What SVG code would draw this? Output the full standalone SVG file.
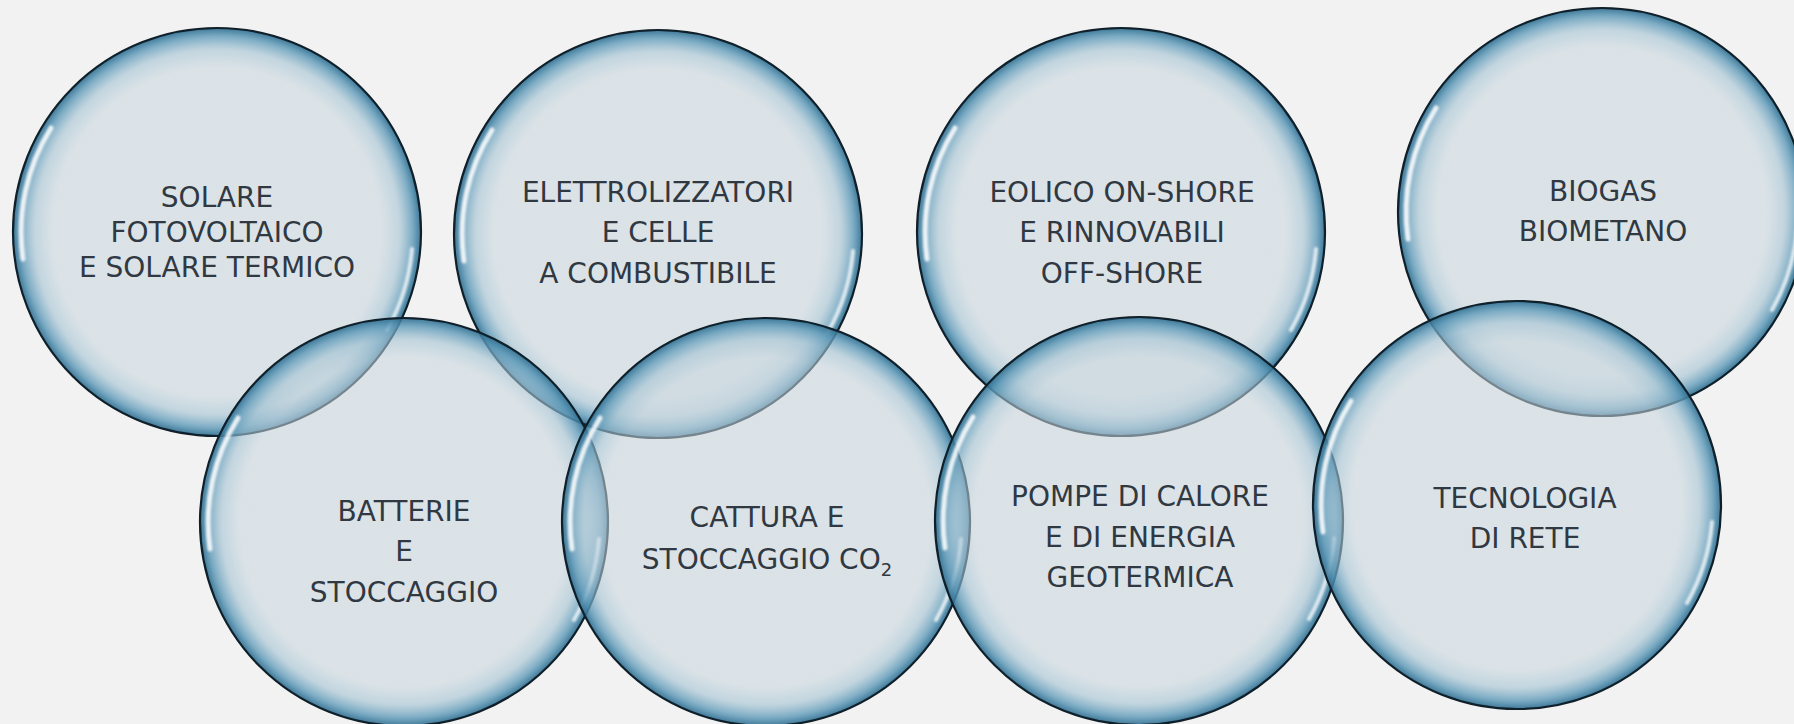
<svg xmlns="http://www.w3.org/2000/svg" width="1794" height="724" viewBox="0 0 1794 724">
<style>
.lbl{font-family:"DejaVu Sans","Verdana",sans-serif;font-size:28px;fill:#303842;text-anchor:middle}
.sub{font-size:18px}
</style>
<defs>
<radialGradient id="bg" cx="0" cy="0" r="205" gradientUnits="userSpaceOnUse">
<stop offset="0" stop-color="#c8d6de" stop-opacity="0.55"/>
<stop offset="0.8" stop-color="#c8d6de" stop-opacity="0.55"/>
<stop offset="0.89" stop-color="#a2c2d2" stop-opacity="0.6"/>
<stop offset="0.955" stop-color="#5d99b8" stop-opacity="0.8"/>
<stop offset="1" stop-color="#2a6a8c" stop-opacity="0.95"/>
</radialGradient>
<filter id="blur" x="-20%" y="-20%" width="140%" height="140%"><feGaussianBlur stdDeviation="1.3"/></filter>
<g id="bubble">
<circle r="204" fill="url(#bg)" stroke="#10202a" stroke-width="2.2"/>
<path d="M -166 -104 A 196 196 0 0 0 -194 27" fill="none" stroke="#ffffff" stroke-width="5" stroke-linecap="round" stroke-opacity="0.85" filter="url(#blur)"/>
<path d="M 195 17 A 196 196 0 0 1 170 98" fill="none" stroke="#ffffff" stroke-width="4" stroke-linecap="round" stroke-opacity="0.75" filter="url(#blur)"/>
</g>
</defs>
<rect width="1794" height="724" fill="#f2f2f2"/>
<g id="node-solare">
<use href="#bubble" transform="translate(217,232)"/>
<text class="lbl" x="217" y="207">SOLARE</text>
<text class="lbl" x="217" y="242">FOTOVOLTAICO</text>
<text class="lbl" x="217" y="277">E SOLARE TERMICO</text>
</g>
<g id="node-elettrolizzatori">
<use href="#bubble" transform="translate(658,234)"/>
<text class="lbl" x="658" y="202">ELETTROLIZZATORI</text>
<text class="lbl" x="658" y="242">E CELLE</text>
<text class="lbl" x="658" y="283">A COMBUSTIBILE</text>
</g>
<g id="node-eolico">
<use href="#bubble" transform="translate(1121,232)"/>
<text class="lbl" x="1122" y="202">EOLICO ON-SHORE</text>
<text class="lbl" x="1122" y="242">E RINNOVABILI</text>
<text class="lbl" x="1122" y="283">OFF-SHORE</text>
</g>
<g id="node-biogas">
<use href="#bubble" transform="translate(1602,212)"/>
<text class="lbl" x="1603" y="201">BIOGAS</text>
<text class="lbl" x="1603" y="241">BIOMETANO</text>
</g>
<g id="node-batterie">
<use href="#bubble" transform="translate(404,522)"/>
<text class="lbl" x="404" y="521">BATTERIE</text>
<text class="lbl" x="404" y="561">E</text>
<text class="lbl" x="404" y="602">STOCCAGGIO</text>
</g>
<g id="node-cattura">
<use href="#bubble" transform="translate(766,522)"/>
<text class="lbl" x="767" y="527">CATTURA E</text>
<text class="lbl" x="767" y="569">STOCCAGGIO CO<tspan class="sub" dy="7">2</tspan></text>
</g>
<g id="node-pompe">
<use href="#bubble" transform="translate(1139,521)"/>
<text class="lbl" x="1140" y="506">POMPE DI CALORE</text>
<text class="lbl" x="1140" y="547">E DI ENERGIA</text>
<text class="lbl" x="1140" y="587">GEOTERMICA</text>
</g>
<g id="node-tecnologia">
<use href="#bubble" transform="translate(1517,505)"/>
<text class="lbl" x="1525" y="508">TECNOLOGIA</text>
<text class="lbl" x="1525" y="548">DI RETE</text>
</g>
<g id="connectors"></g>
</svg>
